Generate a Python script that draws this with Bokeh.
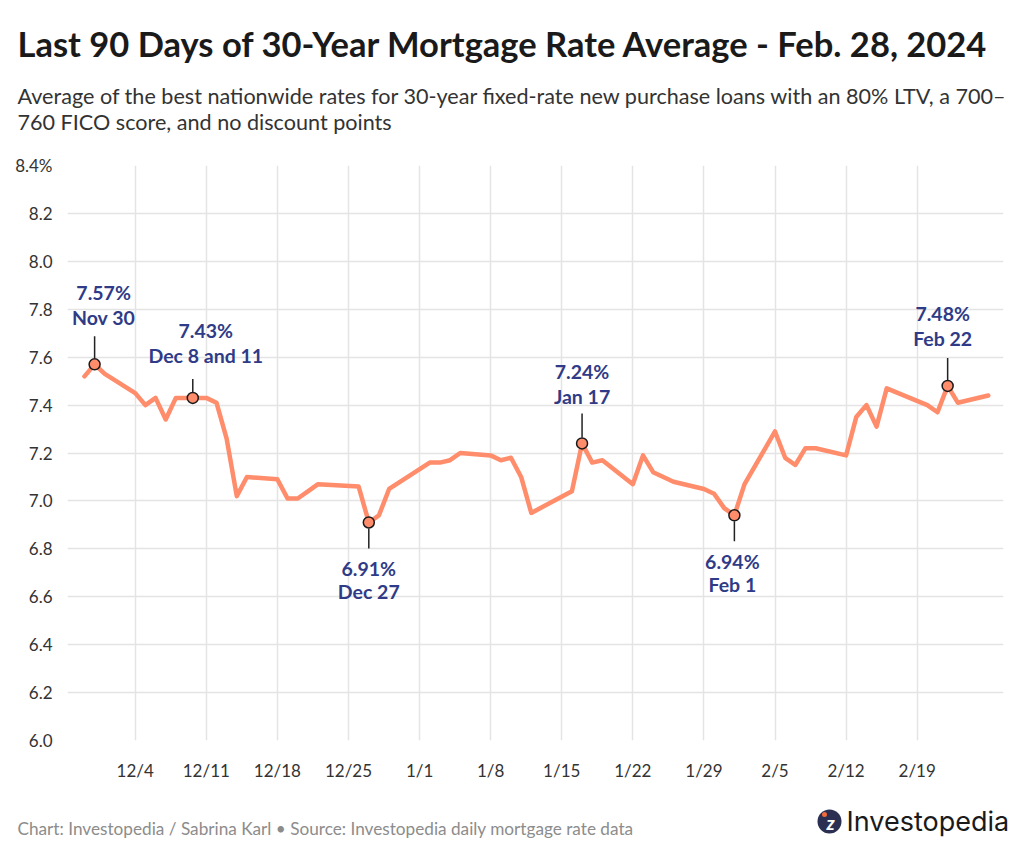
import numpy as np
import pandas as pd
from bokeh.plotting import figure
from bokeh.layouts import column
from bokeh.models import FixedTicker, PrintfTickFormatter, Range1d, ColumnDataSource
from bokeh.embed import file_html
from bokeh.resources import INLINE
from bokeh.core.properties import value

# ---------------- data ----------------
dates = [
    "2023-11-29", "2023-11-30", "2023-12-01",
    "2023-12-04", "2023-12-05", "2023-12-06", "2023-12-07", "2023-12-08",
    "2023-12-11", "2023-12-12", "2023-12-13", "2023-12-14", "2023-12-15",
    "2023-12-18", "2023-12-19", "2023-12-20", "2023-12-21", "2023-12-22",
    "2023-12-26", "2023-12-27", "2023-12-28", "2023-12-29",
    "2024-01-02", "2024-01-03", "2024-01-04", "2024-01-05",
    "2024-01-08", "2024-01-09", "2024-01-10", "2024-01-11", "2024-01-12",
    "2024-01-16", "2024-01-17", "2024-01-18", "2024-01-19",
    "2024-01-22", "2024-01-23", "2024-01-24", "2024-01-25", "2024-01-26",
    "2024-01-29", "2024-01-30", "2024-01-31", "2024-02-01", "2024-02-02",
    "2024-02-05", "2024-02-06", "2024-02-07", "2024-02-08", "2024-02-09",
    "2024-02-12", "2024-02-13", "2024-02-14", "2024-02-15", "2024-02-16",
    "2024-02-20", "2024-02-21", "2024-02-22", "2024-02-23",
    "2024-02-26",
]
rates = [
    7.52, 7.57, 7.53,
    7.45, 7.40, 7.43, 7.34, 7.43,
    7.43, 7.41, 7.26, 7.02, 7.10,
    7.09, 7.01, 7.01, 7.04, 7.07,
    7.06, 6.91, 6.94, 7.05,
    7.16, 7.16, 7.17, 7.20,
    7.19, 7.17, 7.18, 7.10, 6.95,
    7.04, 7.24, 7.16, 7.17,
    7.07, 7.19, 7.12, 7.10, 7.08,
    7.05, 7.03, 6.97, 6.94, 7.07,
    7.29, 7.18, 7.15, 7.22, 7.22,
    7.19, 7.35, 7.40, 7.31, 7.47,
    7.40, 7.37, 7.48, 7.41,
    7.44,
]

tick_dates = ["2023-12-04", "2023-12-11", "2023-12-18", "2023-12-25",
              "2024-01-01", "2024-01-08", "2024-01-15", "2024-01-22",
              "2024-01-29", "2024-02-05", "2024-02-12", "2024-02-19"]
tick_labels = ["12/4", "12/11", "12/18", "12/25", "1/1", "1/8", "1/15",
               "1/22", "1/29", "2/5", "2/12", "2/19"]

y_ticks = [6.0, 6.2, 6.4, 6.6, 6.8, 7.0, 7.2, 7.4, 7.6, 7.8, 8.0, 8.2, 8.4]
y_top_label = "8.4%"

ann_dates = ["2023-11-30", "2023-12-09 16:00", "2023-12-27",
             "2024-01-17", "2024-02-01", "2024-02-22"]
ann_rates = [7.57, 7.43, 6.91, 7.24, 6.94, 7.48]
ann_date_text = ["Nov 30", "Dec 8 and 11", "Dec 27", "Jan 17", "Feb 1", "Feb 22"]
ann_side = ["above", "above", "below", "above", "below", "above"]

title_text = "Last 90 Days of 30-Year Mortgage Rate Average - Feb. 28, 2024"
subtitle_lines = ["Average of the best nationwide rates for 30-year fixed-rate new purchase loans with an 80% LTV, a 700\u2013",
                  "760 FICO score, and no discount points"]
footer_text = "Chart: Investopedia / Sabrina Karl \u2022 Source: Investopedia daily mortgage rate data"
logo_text = "Investopedia"

# ---------------- helpers ----------------
base = pd.Timestamp("2023-12-04")
def to_x(ds):
    return [(pd.Timestamp(d) - base) / pd.Timedelta(days=1) for d in ds]

x = to_x(dates)
tick_x = [int(round(v)) for v in to_x(tick_dates)]
ax = to_x(ann_dates)

LINE = "#FF8C6B"
NAVY = "#2F3B87"
FONT = "Lato"
W = 1024
HEAD_H, MAIN_H, FOOT_H = 150, 640, 69


def no_align(f):
    try:
        f.frame_align = False
    except Exception:
        pass


def blank(h, top):
    f = figure(width=W, height=h, output_backend="svg", toolbar_location=None,
               x_range=Range1d(0, W), y_range=Range1d(top + h, top),
               x_axis_type=None, y_axis_type=None, min_border=0)
    f.outline_line_color = None
    f.grid.visible = False
    no_align(f)
    return f

# ---------------- header ----------------
head = blank(HEAD_H, 0)
head.text(x=[17], y=[43], text=[title_text], text_font=value(FONT), text_font_style="bold",
          text_font_size="34.5px", text_color="#1A1A1A", text_baseline="middle")
head.text(x=[17, 17], y=[95, 121], text=subtitle_lines, text_font=value(FONT),
          text_font_size="21.6px", text_color="#333333", text_baseline="middle")

# ---------------- main chart ----------------
FL, FR, FT, FB = 67, 21, 15, 50
frame_h = MAIN_H - FT - FB
y0, y1 = 6.0, 8.4
upp = (y1 - y0) / frame_h  # data units per pixel

p = figure(width=W, height=MAIN_H, output_backend="svg", toolbar_location=None,
           x_range=Range1d(-6.67, 85.5), y_range=Range1d(y0, y1),
           min_border_left=FL, min_border_right=FR, min_border_top=FT,
           min_border_bottom=FB)
p.outline_line_color = None
no_align(p)

p.xaxis.ticker = FixedTicker(ticks=tick_x)
p.xaxis.major_label_overrides = {t: l for t, l in zip(tick_x, tick_labels)}
p.yaxis.ticker = FixedTicker(ticks=y_ticks)
p.yaxis.formatter = PrintfTickFormatter(format="%.1f")
p.yaxis.major_label_overrides = {y_ticks[-1]: y_top_label}
for a in (p.xaxis, p.yaxis):
    a.axis_line_color = None
    a.major_tick_line_color = None
    a.minor_tick_line_color = None
    a.major_label_text_font = FONT
    a.major_label_text_font_size = "17px"
    a.major_label_text_color = "#333333"
p.yaxis.major_label_standoff = 9
p.xaxis.major_label_standoff = 13

p.xgrid.grid_line_color = "#E4E4E4"
p.ygrid.grid_line_color = "#E4E4E4"
p.xgrid.grid_line_width = 1.5
p.ygrid.grid_line_width = 1.5

p.line(x, rates, line_color=LINE, line_width=4.5, line_join="round", line_cap="round")

label_dx = [9, 13, 0, 0, -2, -5]
above_conn = [28, 19, 0, 30, 0, 28]
seg_y0, seg_y1 = [], []
for r, s, c in zip(ann_rates, ann_side, above_conn):
    if s == "above":
        seg_y0.append(r + 6 * upp)
        seg_y1.append(r + c * upp)
    else:
        seg_y0.append(r - 6 * upp)
        seg_y1.append(r - 26 * upp)
p.segment(x0=ax, y0=seg_y0, x1=ax, y1=seg_y1, line_color="#222222", line_width=1.5)
p.scatter(ax, ann_rates, size=11, fill_color=LINE, line_color="#1A1A1A", line_width=1.5)

rate_text, rdy, ddy = [], [], []
for i, (r, s) in enumerate(zip(ann_rates, ann_side)):
    lift = 0 if above_conn[i] >= 26 else 5
    if s == "above":
        rdy.append(-72 + lift)
        ddy.append(-47 + lift)
    else:
        rdy.append(46)
        ddy.append(69)
    rate_text.append(f"{r:.2f}%")
src = ColumnDataSource(dict(x=ax, y=ann_rates, rt=rate_text, dt=ann_date_text,
                            rdy=rdy, ddy=ddy, dx=label_dx))
for col, dycol in (("rt", "rdy"), ("dt", "ddy")):
    p.text(x="x", y="y", text=col, x_offset="dx", y_offset=dycol, source=src,
           text_font=value(FONT), text_font_style="bold", text_font_size="19.5px",
           text_color=NAVY, text_align="center", text_baseline="middle")

# ---------------- footer ----------------
top = HEAD_H + MAIN_H
foot = blank(FOOT_H, top)
foot.text(x=[17], y=[828], text=[footer_text], text_font=value(FONT),
          text_font_size="17.2px", text_color="#8C8C8C", text_baseline="middle")
foot.scatter(x=[829], y=[821], size=24, fill_color="#2B3052", line_color=None)
foot.text(x=[830], y=[822], text=["z"], text_font=value(FONT), text_font_style="bold italic",
          text_font_size="19px", text_color="white", text_align="center", text_baseline="middle")
foot.scatter(x=[824], y=[814], size=5, fill_color="#F26B3A", line_color=None)
foot.text(x=[846], y=[821], text=[logo_text], text_font=value("Inter"),
          text_font_size="27px", text_color="#1A1A1A", text_baseline="middle")

layout = column(head, p, foot, spacing=0)
open("out.html", "w").write(file_html(layout, INLINE))
